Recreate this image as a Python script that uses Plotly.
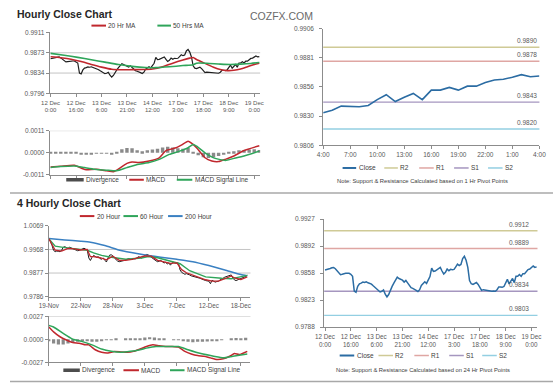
import plotly.graph_objects as go

W, H = 560, 386
FONT = "Liberation Sans"

# ---------------- DATA ----------------
# Hourly chart (12 Dec - 19 Dec), one value per hour
hourly_labels = ["12 Dec<br>0:00", "12 Dec<br>16:00", "13 Dec<br>6:00", "13 Dec<br>21:00",
                 "14 Dec<br>12:00", "17 Dec<br>3:00", "17 Dec<br>18:00", "18 Dec<br>9:00", "19 Dec<br>0:00"]
hourly_label_idx = [0, 15, 30, 45, 60, 75, 90, 105, 120]
hourly_close = [
    0.98613, 0.98618, 0.98626, 0.98634, 0.98643, 0.98647, 0.98630, 0.98609, 0.98580, 0.98554,
    0.98559, 0.98567, 0.98571, 0.98571, 0.98571, 0.98559, 0.98533, 0.98344, 0.98327, 0.98403,
    0.98437, 0.98445, 0.98458, 0.98453, 0.98462, 0.98449, 0.98441, 0.98432, 0.98411, 0.98390,
    0.98369, 0.98348, 0.98331, 0.98340, 0.98357, 0.98302, 0.98268, 0.98298, 0.98361, 0.98403,
    0.98445, 0.98491, 0.98521, 0.98504, 0.98491, 0.98483, 0.98458, 0.98479, 0.98449, 0.98411,
    0.98386, 0.98378, 0.98369, 0.98352, 0.98336, 0.98361, 0.98416, 0.98445, 0.98462, 0.98441,
    0.98487, 0.98529, 0.98639, 0.98596, 0.98601, 0.98618, 0.98626, 0.98647, 0.98601, 0.98563,
    0.98584, 0.98626, 0.98605, 0.98622, 0.98618, 0.98622, 0.98655, 0.98689, 0.98672, 0.98685,
    0.98761, 0.98790, 0.98740, 0.98647, 0.98479, 0.98437, 0.98428, 0.98437, 0.98453, 0.98428,
    0.98386, 0.98352, 0.98361, 0.98357, 0.98348, 0.98344, 0.98344, 0.98340, 0.98344,
    0.98340, 0.98360, 0.98396, 0.98396, 0.98391, 0.98402, 0.98452, 0.98494, 0.98435, 0.98472,
    0.98505, 0.98452, 0.98533, 0.98533, 0.98556, 0.98533, 0.98567, 0.98567, 0.98598, 0.98620,
    0.98626, 0.98643, 0.98665, 0.98648, 0.98654]

ma20_hr_x = [0, 6, 12, 18, 24, 30, 36, 42, 48, 54, 60, 66, 72, 78, 82, 84, 86, 90, 96, 100, 104, 108, 112, 116, 120, 123]
ma20_hr = [0.98650, 0.98632, 0.98605, 0.98560, 0.98505, 0.98455, 0.98415, 0.98405, 0.98408, 0.98410,
           0.98420, 0.98462, 0.98530, 0.98590, 0.98625, 0.98638, 0.98600, 0.98540, 0.98455, 0.98410,
           0.98390, 0.98395, 0.98420, 0.98462, 0.98505, 0.98528]
ma50_hr_x = [0, 8, 16, 24, 32, 40, 48, 56, 62, 70, 78, 84, 86, 92, 100, 106, 112, 118, 123]
ma50_hr = [0.98715, 0.98680, 0.98640, 0.98595, 0.98550, 0.98505, 0.98470, 0.98448, 0.98445, 0.98462,
           0.98485, 0.98500, 0.98530, 0.98528, 0.98512, 0.98505, 0.98512, 0.98525, 0.98542]

macd_hr_x = [0, 6, 14, 19, 21, 27, 33, 37, 39, 45, 48, 52, 58, 64, 68, 74, 77, 81, 83, 86, 91, 95, 99, 103, 108, 114, 123]
macd_hr = [-0.00071, -0.00067, -0.00062, -0.00080, -0.00085, -0.00082, -0.00090, -0.00095, -0.00087, -0.00053,
           -0.00046, -0.00049, -0.00041, -0.00025, 0.00011, 0.00025, 0.00038, 0.00057, 0.00048, 0.00025,
           -0.00025, -0.00041, -0.00044, -0.00033, -0.00016, 0.00011, 0.00035]
signal_hr_x = [0, 6, 14, 20, 26, 33, 39, 45, 52, 58, 64, 70, 76, 81, 84, 86, 91, 97, 103, 108, 114, 123]
signal_hr = [-0.00074, -0.00069, -0.00066, -0.00074, -0.00082, -0.00087, -0.00090, -0.00074, -0.00057, -0.00049,
             -0.00033, -0.00008, 0.00008, 0.00025, 0.00041, 0.00033, 0.00000, -0.00028, -0.00038, -0.00028,
             -0.00016, 0.00008]
div_hr_x = [0, 3, 6, 9, 12, 15, 18, 21, 24, 27, 30, 33, 36, 39, 42, 45, 48, 51, 54, 57, 60,
            63, 66, 69, 72, 75, 78, 81, 84, 87, 90, 93, 96, 99, 102, 105, 108, 111, 114, 117, 120, 123]
div_hr = [0.00003, 0.00002, 0.00002, 0.00003, 0.00004, 0.00001, -0.00006, -0.00010, -0.00006, -0.00002,
          -0.00003, -0.00004, -0.00006, 0.00004, 0.00018, 0.00024, 0.00022, 0.00012, 0.00008, 0.00012,
          0.00016, 0.00020, 0.00026, 0.00030, 0.00026, 0.00022, 0.00020, 0.00024, 0.00004, -0.00012,
          -0.00022, -0.00026, -0.00022, -0.00016, -0.00008, 0.00002, 0.00008, 0.00012, 0.00014, 0.00016,
          0.00018, 0.00014]

# last 24 hours panel (1 Hr pivots)
day_hour_labels = ["4:00", "7:00", "10:00", "13:00", "16:00", "19:00", "22:00", "1:00", "4:00"]
pivot_names = ["R2", "R1", "S1", "S2"]
pivot_1h = [0.9890, 0.9878, 0.9843, 0.9820]
pivot_24h = [0.9912, 0.9889, 0.9834, 0.9803]

# 4 hourly chart
four_hour_labels = ["19-Nov", "22-Nov", "28-Nov", "3-Dec", "7-Dec", "12-Dec", "18-Dec"]
four_hour_label_idx = [0, 20, 40, 60, 80, 100, 120]
close_4h = [
    1.00056, 0.99995, 0.99838, 0.99644, 0.99595, 0.99619, 0.99607, 0.99595, 0.99644, 0.99765,
    0.99789, 0.99741, 0.99716, 0.99765, 0.99741, 0.99704, 0.99692, 0.99656, 0.99631, 0.99644,
    0.99680, 0.99704, 0.99728, 0.99692, 0.99668, 0.99352, 0.99255, 0.99377, 0.99450, 0.99413,
    0.99377, 0.99401, 0.99328, 0.99304, 0.99352, 0.99268, 0.99195, 0.99352, 0.99462, 0.99474,
    0.99437, 0.99352, 0.99280, 0.99231, 0.99207, 0.99219, 0.99243, 0.99231, 0.99268, 0.99304,
    0.99328, 0.99304, 0.99292, 0.99328, 0.99316, 0.99352, 0.99401, 0.99377, 0.99352, 0.99401,
    0.99450, 0.99486, 0.99474, 0.99425, 0.99364, 0.99328, 0.99280, 0.99243, 0.99207, 0.99231,
    0.99255, 0.99207, 0.99158, 0.99183, 0.99122, 0.99158, 0.99073, 0.99158, 0.99183, 0.99158,
    0.99146, 0.99158, 0.98892, 0.98795, 0.98758, 0.98722, 0.98746, 0.98734, 0.98697, 0.98661,
    0.98649, 0.98625, 0.98600, 0.98588, 0.98576, 0.98552, 0.98540, 0.98503, 0.98479, 0.98467,
    0.98455, 0.98358, 0.98491, 0.98455, 0.98418, 0.98443, 0.98455, 0.98503, 0.98528, 0.98576,
    0.98612, 0.98637, 0.98661, 0.98685, 0.98697, 0.98576, 0.98503, 0.98479, 0.98503, 0.98528,
    0.98564, 0.98576, 0.98600, 0.98637, 0.98685]
ma20_4h_x = [0, 2, 4, 8, 12, 16, 20, 24, 26, 28, 32, 36, 40, 44, 48, 52, 56, 60, 64, 68,
             72, 76, 80, 83, 86, 90, 94, 98, 102, 106, 110, 114, 116, 120, 124]
ma20_4h = [1.0010, 0.9990, 0.9965, 0.9962, 0.9972, 0.9970, 0.9966, 0.9968, 0.9940, 0.9940,
           0.9936, 0.9928, 0.9942, 0.9926, 0.9926, 0.9930, 0.9937, 0.9943, 0.9942, 0.9926,
           0.9920, 0.9914, 0.9916, 0.9890, 0.9878, 0.9868, 0.9860, 0.9851, 0.9846, 0.9846,
           0.9855, 0.9866, 0.9858, 0.9852, 0.9862]
ma60_4h_x = [0, 4, 10, 18, 24, 28, 33, 38, 48, 58, 62, 68, 78, 82, 88, 98, 108, 114, 118, 124]
ma60_4h = [1.0010, 0.9981, 0.9975, 0.9970, 0.9965, 0.9955, 0.9945, 0.9939, 0.9930, 0.9935,
           0.9941, 0.9936, 0.9921, 0.9913, 0.9886, 0.9862, 0.9857, 0.9855, 0.9860, 0.9868]
ma200_4h_x = [0, 10, 20, 26, 35, 45, 55, 62, 70, 80, 90, 100, 110, 120, 124]
ma200_4h = [1.0010, 1.0005, 1.0000, 0.9996, 0.9983, 0.9964, 0.9952, 0.9945, 0.9938, 0.9930,
            0.9921, 0.9906, 0.9889, 0.9871, 0.9866]

macd_4h_x = [0, 3, 7, 11, 15, 19, 23, 25, 29, 33, 37, 41, 45, 49, 53, 57, 61, 65, 69, 73,
             77, 81, 85, 89, 93, 97, 101, 105, 109, 113, 116, 119, 124]
macd_4h = [0.00144, 0.00087, 0.00030, -0.00008, -0.00038, -0.00046, -0.00065, -0.00065, -0.00122, -0.00152,
           -0.00160, -0.00144, -0.00148, -0.00152, -0.00141, -0.00114, -0.00084, -0.00065, -0.00076, -0.00084,
           -0.00084, -0.00091, -0.00141, -0.00171, -0.00190, -0.00198, -0.00217, -0.00236, -0.00228, -0.00198,
           -0.00167, -0.00179, -0.00141]
signal_4h_x = [0, 3, 9, 15, 21, 27, 33, 39, 45, 51, 57, 61, 67, 75, 81, 87, 95, 103, 109, 115, 124]
signal_4h = [0.00163, 0.00144, 0.00068, 0.00000, -0.00027, -0.00065, -0.00114, -0.00141, -0.00152, -0.00141,
             -0.00122, -0.00103, -0.00084, -0.00084, -0.00084, -0.00122, -0.00167, -0.00198, -0.00217, -0.00198,
             -0.00171]
div_4h_x = [0, 3, 6, 9, 12, 15, 18, 21, 24, 27, 30, 33, 36, 39, 42, 45, 48, 51, 54, 57, 60,
            63, 66, 69, 72, 75, 78, 81, 84, 87, 90, 93, 96, 99, 102, 105, 108, 111, 114, 117, 120, 123]
div_4h = [-0.0002, -0.0005, -0.0006, -0.0006, -0.0005, -0.0004, -0.0003, -0.0002, -0.0002, -0.0003,
          -0.0003, -0.0002, -0.0001, -0.00005, 0.00005, 0.0, 0.00002, 0.00005, 0.0001, 0.00012,
          0.0002, 0.00025, 0.0002, 0.0001, 0.00005, 0.0, -0.00002, -0.00005, -0.0002, -0.0003,
          -0.00035, -0.0003, -0.0003, -0.00025, -0.0002, -0.00015, -0.0001, 0.0, 0.0001, 0.00015,
          0.0001, 0.00018]

# axis tick labels
hr_price_ticks = ["0.9796", "0.9834", "0.9873", "0.9911"]
hr_macd_ticks = ["-0.0011", "0.0000", "0.0011"]
day_ticks = ["0.9806", "0.9830", "0.9856", "0.9881", "0.9906"]
h4_price_ticks = ["0.9786", "0.9877", "0.9968", "1.0069"]
h4_macd_ticks = ["-0.0027", "0.0000", "0.0027"]
wk_ticks = ["0.9788", "0.9823", "0.9858", "0.9892", "0.9927"]

# ---------------- STYLE ----------------
RED = "#c0272d"
GREEN = "#2fa55a"
BLUE200 = "#3a80c2"
CLOSE_BLUE = "#2b6ca3"
PIV_COL = ["#cfca96", "#dfa6a3", "#a596bf", "#93cfe2"]
AXIS = "#8c8c8c"
GRID = "#c4c4c4"
TXT = "#595959"


def px(x):
    return x / W


def py(y):
    return 1 - y / H


def even(lo, hi, n):
    return [lo + (hi - lo) * i / (n - 1) for i in range(n)]


fig = go.Figure()

n_hr = len(hourly_close)
hr_range = [-0.5, n_hr - 0.5]
n_day = 25
day_close = hourly_close[-n_day:]

# ---- panel A: hourly close + MAs
fig.add_trace(go.Scatter(x=list(range(n_hr)), y=hourly_close, mode="lines",
                         line=dict(color="#1e1e1e", width=1.2), xaxis="x", yaxis="y"))
fig.add_trace(go.Scatter(x=ma20_hr_x, y=ma20_hr, mode="lines", line=dict(color=RED, width=1.6, shape="spline", smoothing=0.6),
                         xaxis="x", yaxis="y"))
fig.add_trace(go.Scatter(x=ma50_hr_x, y=ma50_hr, mode="lines", line=dict(color=GREEN, width=1.6, shape="spline", smoothing=0.6),
                         xaxis="x", yaxis="y"))

# ---- panel B: hourly MACD
fig.add_trace(go.Bar(x=div_hr_x, y=div_hr, width=2.0, marker=dict(color="#8a8a8a", line=dict(width=0)),
                     xaxis="x2", yaxis="y2"))
fig.add_trace(go.Scatter(x=macd_hr_x, y=macd_hr, mode="lines", line=dict(color=RED, width=1.5, shape="spline", smoothing=0.5),
                         xaxis="x2", yaxis="y2"))
fig.add_trace(go.Scatter(x=signal_hr_x, y=signal_hr, mode="lines", line=dict(color=GREEN, width=1.5, shape="spline", smoothing=0.5),
                         xaxis="x2", yaxis="y2"))

# ---- panel C: last 24h close
fig.add_trace(go.Scatter(x=list(range(n_day)), y=day_close, mode="lines",
                         line=dict(color=CLOSE_BLUE, width=1.6), xaxis="x3", yaxis="y3"))

# ---- panel D: 4 hourly close
n4 = len(close_4h)
fig.add_trace(go.Scatter(x=list(range(n4)), y=close_4h, mode="lines", line=dict(color="#1e1e1e", width=1.0),
                         xaxis="x4", yaxis="y4"))
fig.add_trace(go.Scatter(x=ma200_4h_x, y=ma200_4h, mode="lines", line=dict(color=BLUE200, width=1.5, shape="spline", smoothing=0.5),
                         xaxis="x4", yaxis="y4"))
fig.add_trace(go.Scatter(x=ma60_4h_x, y=ma60_4h, mode="lines", line=dict(color=GREEN, width=1.4),
                         xaxis="x4", yaxis="y4"))
fig.add_trace(go.Scatter(x=ma20_4h_x, y=ma20_4h, mode="lines", line=dict(color=RED, width=1.3),
                         xaxis="x4", yaxis="y4"))

# ---- panel E: 4 hourly MACD
fig.add_trace(go.Bar(x=div_4h_x, y=div_4h, width=2.0, marker=dict(color="#8a8a8a", line=dict(width=0)),
                     xaxis="x5", yaxis="y5"))
fig.add_trace(go.Scatter(x=macd_4h_x, y=macd_4h, mode="lines", line=dict(color=RED, width=1.5, shape="spline", smoothing=0.5),
                         xaxis="x5", yaxis="y5"))
fig.add_trace(go.Scatter(x=signal_4h_x, y=signal_4h, mode="lines", line=dict(color=GREEN, width=1.5, shape="spline", smoothing=0.5),
                         xaxis="x5", yaxis="y5"))

# ---- panel F: hourly close with 24h pivots
fig.add_trace(go.Scatter(x=list(range(n_hr)), y=hourly_close, mode="lines",
                         line=dict(color=CLOSE_BLUE, width=1.5), xaxis="x6", yaxis="y6"))

# ---------------- AXES ----------------
def xax(dom, rng, tickvals=None, ticktext=None, anchor="y", showlabels=True, size=6):
    return dict(domain=[px(dom[0]), px(dom[1])], range=rng, anchor=anchor, showline=True,
                linecolor=AXIS, linewidth=1, ticks="outside", ticklen=3, tickcolor=AXIS,
                showgrid=False, zeroline=False, tickmode="array",
                tickvals=tickvals if tickvals is not None else [], ticktext=ticktext if ticktext is not None else [],
                showticklabels=showlabels, tickfont=dict(size=size, color=TXT, family=FONT), fixedrange=True)


def yax(dom, rng, ticktext, anchor, standoff=None):
    d = dict(domain=[py(dom[1]), py(dom[0])], range=rng, anchor=anchor, showline=True,
             linecolor=AXIS, linewidth=1, ticks="outside", ticklen=3, tickcolor=AXIS,
             showgrid=False, zeroline=False, tickmode="array",
             tickvals=even(rng[0], rng[1], len(ticktext)), ticktext=ticktext,
             tickfont=dict(size=6.5, color=TXT, family=FONT), fixedrange=True)
    if standoff is not None:
        d["ticklabelstandoff"] = standoff
    return d


A_X, A_Y = (41, 258), (29, 91)
B_X, B_Y = (41, 258), (129, 174)
C_X, C_Y = (323, 546), (25, 144)
D_X, D_Y = (40, 248), (226, 298)
E_X, E_Y = (40, 248), (318, 365)
F_X, F_Y = (324, 544), (219, 329)

hr_price_rng = [0.9796, 0.9911]
hr_macd_rng = [-0.0011, 0.0011]
day_rng = [0.9806, 0.9906]
h4_rng = [0.9786, 1.0059]
h4_macd_rng = [-0.0027, 0.0027]
wk_rng = [0.9788, 0.9927]
h4_xrng = [0, 126]

fig.update_layout(
    xaxis=xax(A_X, hr_range, hourly_label_idx, hourly_labels, "y"),
    yaxis=yax(A_Y, hr_price_rng, hr_price_ticks, "x"),
    xaxis2=xax(B_X, hr_range, hourly_label_idx, None, "y2", showlabels=False),
    yaxis2=yax(B_Y, hr_macd_rng, hr_macd_ticks, "x2"),
    xaxis3=xax(C_X, [0, n_day - 1], list(range(0, n_day, 3)), day_hour_labels, "y3", size=6.5),
    yaxis3=yax(C_Y, day_rng, day_ticks, "x3", standoff=4),
    xaxis4=xax(D_X, h4_xrng, four_hour_label_idx, four_hour_labels, "y4", size=6.3),
    yaxis4=yax(D_Y, h4_rng, h4_price_ticks, "x4"),
    xaxis5=xax(E_X, h4_xrng, four_hour_label_idx, None, "y5", showlabels=False),
    yaxis5=yax(E_Y, h4_macd_rng, h4_macd_ticks, "x5"),
    xaxis6=xax(F_X, hr_range, hourly_label_idx, hourly_labels, "y6", size=6.3),
    yaxis6=yax(F_Y, wk_rng, wk_ticks, "x6", standoff=4),
)

# gridlines (interior price levels, top MACD level)
def hgrid(yref, val):
    fig.add_shape(type="line", xref=yref.replace("y", "x") + " domain", yref=yref, x0=0, x1=1, y0=val, y1=val,
                  line=dict(color=GRID, width=1), layer="below")

for v in even(*hr_price_rng, 4)[1:3]:
    hgrid("y", v)
for v in even(*h4_rng, 4)[1:3]:
    hgrid("y4", v)
hgrid("y2", hr_macd_rng[1])
hgrid("y5", h4_macd_rng[1])

# pivot lines and labels
def pivots(ax, levels, label_x):
    for val, col in zip(levels, PIV_COL):
        fig.add_shape(type="line", xref="x%s domain" % ax, yref="y%s" % ax, x0=0, x1=1, y0=val, y1=val,
                      line=dict(color=col, width=1.4), layer="below")
        fig.add_annotation(xref="x%s domain" % ax, yref="y%s" % ax, x=label_x, y=val, text="%.4f" % val,
                           showarrow=False, xanchor="right", yanchor="bottom", yshift=1,
                           font=dict(size=6.5, color=TXT, family=FONT))

pivots("3", pivot_1h, 1.0)
pivots("6", pivot_24h, 0.97)

# ---------------- LEGENDS / TEXT ----------------
def legend_row(y, items):
    for x0, x1, color, lw, label in items:
        fig.add_shape(type="line", xref="paper", yref="paper", x0=px(x0), x1=px(x1), y0=py(y), y1=py(y),
                      line=dict(color=color, width=lw))
        fig.add_annotation(xref="paper", yref="paper", x=px(x1 + 0.5), y=py(y), text=label, showarrow=False,
                           xanchor="left", yanchor="middle", font=dict(size=6.5, color="#404040", family=FONT))


legend_row(22, [(84, 99, RED, 2, "20 Hr MA"), (152, 166, GREEN, 2, "50 Hrs MA")])
legend_row(179, [(58, 76, "#4d4d4d", 3.5, "Divergence"), (123, 138, RED, 2, "MACD"),
                 (172, 188, GREEN, 2, "MACD Signal Line")])
legend_row(167, [(343, 357, CLOSE_BLUE, 2, "Close"), (386, 400, PIV_COL[0], 1.5, pivot_names[0]),
                 (422, 437, PIV_COL[1], 1.5, pivot_names[1]), (458, 473, PIV_COL[2], 1.5, pivot_names[2]),
                 (493, 508, PIV_COL[3], 1.5, pivot_names[3])])
legend_row(216, [(72, 87, RED, 2, "20 Hour"), (117, 132, GREEN, 2, "60 Hour"), (163, 178, BLUE200, 2, "200 Hour")])
legend_row(373, [(55, 72, "#4d4d4d", 3.5, "Divergence"), (117, 133, RED, 2, "MACD"),
                 (165, 180, GREEN, 2, "MACD Signal Line")])
legend_row(358, [(340, 355, CLOSE_BLUE, 2, "Close"), (380, 395, PIV_COL[0], 1.5, pivot_names[0]),
                 (417, 432, PIV_COL[1], 1.5, pivot_names[1]), (453, 468, PIV_COL[2], 1.5, pivot_names[2]),
                 (487, 502, PIV_COL[3], 1.5, pivot_names[3])])


def text(x, y, s, size, color, anchor="left"):
    fig.add_annotation(xref="paper", yref="paper", x=px(x), y=py(y), text=s, showarrow=False,
                       xanchor=anchor, yanchor="middle", font=dict(size=size, color=color, family=FONT))


text(5, 10, "<b>Hourly Close Chart</b>", 10.5, "#262626")
text(5, 203, "<b>4 Hourly Close Chart</b>", 10.5, "#262626")
text(245, 12, "COZFX.COM", 10.5, "#6a6a6a")
text(425, 180, "Note: Support &amp; Resistance Calculated based on 1 Hr Pivot Points", 5.8, "#404040", "center")
text(426, 373, "Note: Support &amp; Resistance Calculated based on 24 Hr Pivot Points", 5.8, "#404040", "center")

# separators
for yy in (192.5, 384.5):
    fig.add_shape(type="line", xref="paper", yref="paper", x0=0, x1=1, y0=py(yy), y1=py(yy),
                  line=dict(color="#a8a8a8", width=1.5))

fig.update_layout(width=W, height=H, margin=dict(l=0, r=0, t=0, b=0), paper_bgcolor="white",
                  plot_bgcolor="white", showlegend=False, barmode="overlay",
                  font=dict(family=FONT, size=6.5, color=TXT))

fig.write_html("out.html", config={"displayModeBar": False},
               post_script="document.body.style.margin='0';document.body.style.overflow='hidden';")
